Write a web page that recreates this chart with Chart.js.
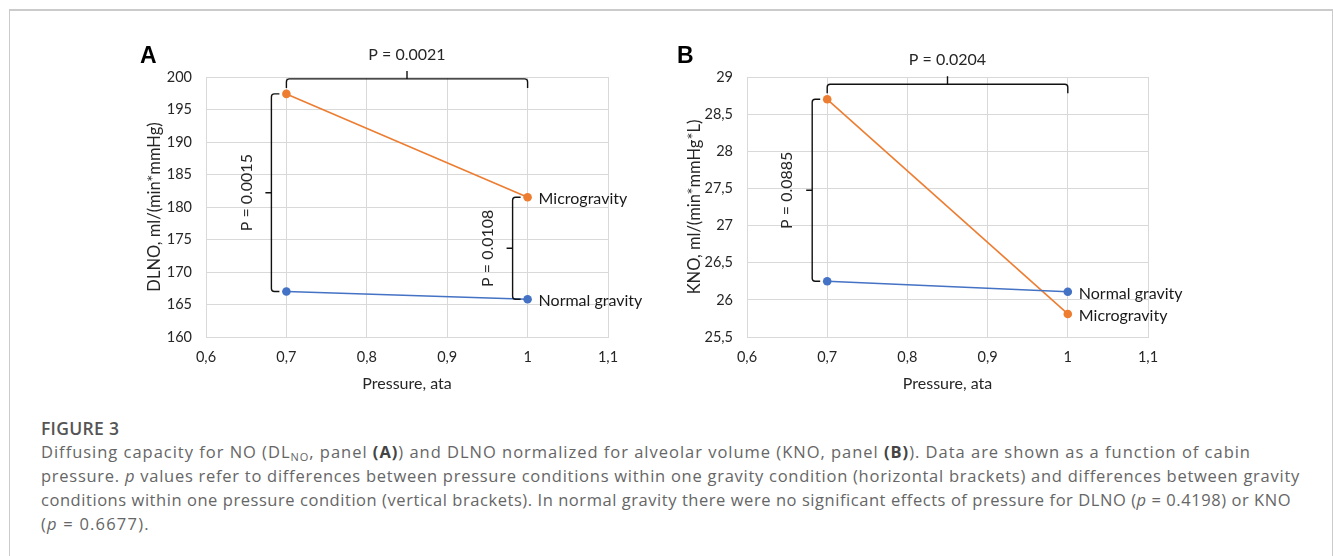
<!DOCTYPE html>
<html>
<head>
<meta charset="utf-8">
<script src="https://cdn.jsdelivr.net/npm/chart.js@4"></script>
<style>
  body { margin: 0; width: 1333px; height: 556px; background: #fff; position: relative; overflow: hidden; }
  #frame { position: absolute; left: 9px; top: 9px; width: 1322px; height: 560px;
           border-top: 2px solid #cbcbcb; border-left: 1px solid #cbcbcb; border-right: 1px solid #cbcbcb; }
  canvas { position: absolute; top: 30px; }
  #chartA { left: 130px; }
  #chartB { left: 670px; }
  #caption { position: absolute; left: 41px; top: 416px; font-family: "Open Sans", sans-serif;
             color: #666; font-size: 16.5px; line-height: 24px; white-space: nowrap; }
  #caption .fig { font-weight: 600; color: #555; font-size: 17.5px; letter-spacing: 0.3px; }
  #caption .ln { display: inline-block; }
  #caption b { color: #444; }
  #caption sub { font-size: 11px; vertical-align: -3px; line-height: 0; }
</style>
</head>
<body>
<div id="frame"></div>
<canvas id="chartA" width="540" height="370"></canvas>
<canvas id="chartB" width="540" height="370"></canvas>
<div id="caption">
  <div class="fig">FIGURE 3</div>
  <span class="ln" data-w="1210">Diffusing capacity for NO (DL<sub>NO</sub>, panel <b>(A)</b>) and DLNO normalized for alveolar volume (KNO, panel <b>(B)</b>). Data are shown as a function of cabin</span><br>
  <span class="ln" data-w="1259">pressure. <i>p</i> values refer to differences between pressure conditions within one gravity condition (horizontal brackets) and differences between gravity</span><br>
  <span class="ln" data-w="1250">conditions within one pressure condition (vertical brackets). In normal gravity there were no significant effects of pressure for DLNO (<i>p</i> = 0.4198) or KNO</span><br>
  <span class="ln" data-w="0">(<i>p</i> = 0.6677).</span>
</div>
<script>
// data
const pressures = [0.7, 1.0];
const dlnoNormal = [167.0, 165.8];
const dlnoMicro = [197.4, 181.5];
const knoNormal = [26.25, 26.11];
const knoMicro = [28.7, 25.81];

const xTickLabels = ['0,6', '0,7', '0,8', '0,9', '1', '1,1'];
const dlnoTickLabels = ['160', '165', '170', '175', '180', '185', '190', '195', '200'];
const knoTickLabels = ['25,5', '26', '26,5', '27', '27,5', '28', '28,5', '29'];

const pHorizA = 'P = 0.0021';
const pVertA = ['P = 0.0015', 'P = 0.0108'];
const pHorizB = 'P = 0.0204';
const pVertB = ['P = 0.0885', null];

const ORANGE = '#ED7D31';
const BLUE = '#4472C4';
const GRID = '#d9d9d9';
const TEXT = '#262626';
const FONT = 'Lato, "Open Sans", sans-serif';

// stretch caption lines to the widths they have in the figure
document.querySelectorAll('#caption .ln').forEach(el => {
  const target = +el.dataset.w;
  let ls = 1.0;
  if (!target) { el.style.letterSpacing = '1.2px'; return; }
  const n = el.textContent.length;
  el.style.letterSpacing = '0px';
  const w0 = el.getBoundingClientRect().width;
  ls = (target - w0) / n;
  el.style.letterSpacing = ls.toFixed(3) + 'px';
});

function pts(vals) {
  return pressures.map((p, i) => ({ x: p, y: vals[i] }));
}

// brackets, p-values, series names and panel letter
const annotations = {
  id: 'annotations',
  afterDatasetsDraw(chart, args, opts) {
    const ctx = chart.ctx;
    const xs = chart.scales.x, ys = chart.scales.y;
    ctx.save();
    ctx.strokeStyle = '#111';
    ctx.lineWidth = 1.4;
    ctx.fillStyle = TEXT;

    // horizontal bracket over the microgravity points
    const x1 = xs.getPixelForValue(pressures[0]);
    const x2 = xs.getPixelForValue(pressures[1]);
    const yTop = ys.getPixelForValue(Math.max(...opts.micro)) - 15;
    ctx.beginPath();
    ctx.moveTo(x1, yTop + 9);
    ctx.arcTo(x1, yTop, x1 + 4, yTop, 3);
    ctx.lineTo(x2 - 4, yTop);
    ctx.arcTo(x2, yTop, x2, yTop + 4, 3);
    ctx.lineTo(x2, yTop + 9);
    const xm = (x1 + x2) / 2;
    ctx.moveTo(xm, yTop);
    ctx.lineTo(xm, yTop - 8);
    ctx.stroke();
    ctx.font = '16px ' + FONT;
    ctx.textAlign = 'center';
    ctx.textBaseline = 'middle';
    ctx.fillText(opts.horiz, xm, yTop - 24);

    // vertical brackets between gravity conditions
    opts.vert.forEach((label, i) => {
      if (!label) return;
      const xb = xs.getPixelForValue(pressures[i]) - 15;
      const ya = ys.getPixelForValue(opts.micro[i]);
      const yb = ys.getPixelForValue(opts.normal[i]);
      ctx.beginPath();
      ctx.moveTo(xb + 8, ya);
      ctx.arcTo(xb, ya, xb, ya + 4, 3);
      ctx.lineTo(xb, yb - 4);
      ctx.arcTo(xb, yb, xb + 4, yb, 3);
      ctx.lineTo(xb + 8, yb);
      const ymid = (ya + yb) / 2;
      ctx.moveTo(xb, ymid);
      ctx.lineTo(xb - 6, ymid);
      ctx.stroke();
      ctx.save();
      ctx.translate(xb - 25, ymid);
      ctx.rotate(-Math.PI / 2);
      ctx.fillText(label, 0, 0);
      ctx.restore();
    });

    // series names next to the last points
    ctx.font = '16px ' + FONT;
    ctx.textAlign = 'left';
    ctx.fillStyle = '#1a1a1a';
    const last = pressures.length - 1;
    const xl = xs.getPixelForValue(pressures[last]) + 11;
    ctx.fillText('Microgravity', xl, ys.getPixelForValue(opts.micro[last]) + 2);
    ctx.fillText('Normal gravity', xl, ys.getPixelForValue(opts.normal[last]) + 2);

    // panel letter
    ctx.font = 'bold 23px "Liberation Sans", Arial, sans-serif';
    ctx.fillStyle = '#000';
    ctx.textAlign = 'left';
    ctx.textBaseline = 'alphabetic';
    ctx.fillText(opts.letter, opts.letterX, 33);
    ctx.restore();
  }
};

function makeChart(id, normal, micro, yMin, yMax, yStep, yTicks, yTitle, letter, letterX, horiz, vert, leftW) {
  return new Chart(document.getElementById(id), {
    type: 'line',
    data: {
      datasets: [
        { label: 'Normal gravity', data: pts(normal), borderColor: BLUE, backgroundColor: BLUE,
          borderWidth: 1.6, pointRadius: 4.3, pointBorderWidth: 0, pointBackgroundColor: BLUE },
        { label: 'Microgravity', data: pts(micro), borderColor: ORANGE, backgroundColor: ORANGE,
          borderWidth: 1.6, pointRadius: 4.3, pointBorderWidth: 0, pointBackgroundColor: ORANGE }
      ]
    },
    options: {
      responsive: false,
      animation: false,
      devicePixelRatio: 1,
      layout: { padding: { top: 47, right: 62, left: 0, bottom: 0 } },
      plugins: {
        legend: { display: false },
        tooltip: { enabled: false },
        annotations: { normal, micro, horiz, vert, letter, letterX }
      },
      scales: {
        x: {
          type: 'linear', min: 0.6, max: 1.1,
          afterFit: s => { s.height = 63; },
          grid: { color: GRID, drawTicks: false },
          border: { color: GRID },
          ticks: { stepSize: 0.1, padding: 12, color: TEXT, font: { family: FONT, size: 14.5 },
                   callback: (v, i) => xTickLabels[i] },
          title: { display: true, text: 'Pressure, ata', color: TEXT, font: { family: FONT, size: 16 },
                   padding: { top: 0, bottom: 7 } }
        },
        y: {
          min: yMin, max: yMax,
          afterFit: s => { s.width = leftW; },
          grid: { color: GRID, drawTicks: false },
          border: { color: GRID },
          ticks: { stepSize: yStep, padding: 14, color: TEXT, font: { family: FONT, size: 14.5 },
                   callback: (v, i) => yTicks[i] },
          title: { display: true, text: yTitle, color: TEXT, font: { family: FONT, size: 16.5 },
                   padding: { top: 15, bottom: 0 } }
        }
      }
    },
    plugins: [annotations]
  });
}

makeChart('chartA', dlnoNormal, dlnoMicro, 160, 200, 5, dlnoTickLabels,
  'DLNO, ml/(min*mmHg)', 'A', 10, pHorizA, pVertA, 76);
makeChart('chartB', knoNormal, knoMicro, 25.5, 29, 0.5, knoTickLabels,
  'KNO, ml/(min*mmHg*L)', 'B', 7, pHorizB, pVertB, 77);
</script>
</body>
</html>
